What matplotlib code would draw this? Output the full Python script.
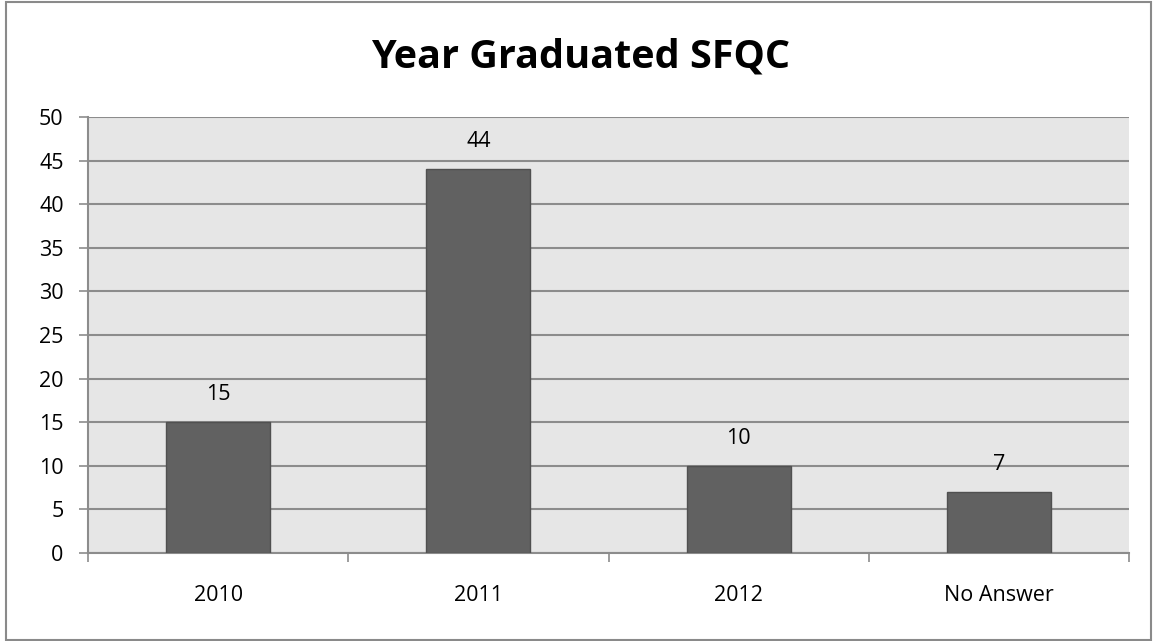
import matplotlib
matplotlib.use("Agg")
import matplotlib.pyplot as plt
from matplotlib.patches import Rectangle

categories = ["2010", "2011", "2012", "No Answer"]
counts = [15, 44, 10, 7]
y_ticks = [0, 5, 10, 15, 20, 25, 30, 35, 40, 45, 50]
title = "Year Graduated SFQC"

plt.rcParams['font.family'] = ['Open Sans', 'DejaVu Sans']

W, H = 1154, 641
fig = plt.figure(figsize=(W / 100, H / 100), dpi=100)
fig.patch.set_facecolor("white")

# outer chart border
fig.add_artist(Rectangle((6 / W, 1 / H), (W - 9) / W, (H - 3) / H,
                         transform=fig.transFigure, fill=False,
                         edgecolor="#8a8a8a", linewidth=1.5))

left, right, top, bottom = 88, 1129, 117, 553
ax = fig.add_axes([left / W, 1 - bottom / H, (right - left) / W, (bottom - top) / H])
ax.set_facecolor("#e6e6e6")

x = range(len(categories))
ax.bar(x, counts, width=0.40, color="#616161", edgecolor="#505050",
       linewidth=1.0, zorder=3)

for xi, v in zip(x, counts):
    ax.annotate(str(v), (xi, v), xytext=(0, 20), textcoords="offset points",
                ha="center", va="center", fontsize=15.5, color="black", zorder=4)

ax.set_xlim(-0.5, len(categories) - 0.5)
ax.set_ylim(0, 50)
ax.set_yticks(y_ticks)
ax.set_yticklabels([str(t) for t in y_ticks], fontsize=15.5)
ax.yaxis.grid(True, color="#8c8c8c", linewidth=1.5, zorder=1)
ax.set_axisbelow(True)

ax.set_xticks(list(x))
ax.set_xticklabels(categories, fontsize=15.5)
ax.tick_params(axis="x", length=0, pad=23)
ax.set_xticks([i - 0.5 for i in range(len(categories) + 1)], minor=True)
ax.tick_params(axis="x", which="minor", length=6.5, width=1.2, color="#8c8c8c")
ax.tick_params(axis="y", length=6.5, width=1.2, color="#8c8c8c", pad=11)

for s in ["top", "right"]:
    ax.spines[s].set_visible(False)
ax.spines["left"].set_color("#8c8c8c")
ax.spines["left"].set_linewidth(1.5)
ax.spines["bottom"].set_color("#8c8c8c")
ax.spines["bottom"].set_linewidth(1.5)

fig.text(581 / W, 1 - 67 / H, title, ha="center", va="baseline",
         fontsize=28.5, fontweight="bold")

fig.savefig("out.png", dpi=100)
